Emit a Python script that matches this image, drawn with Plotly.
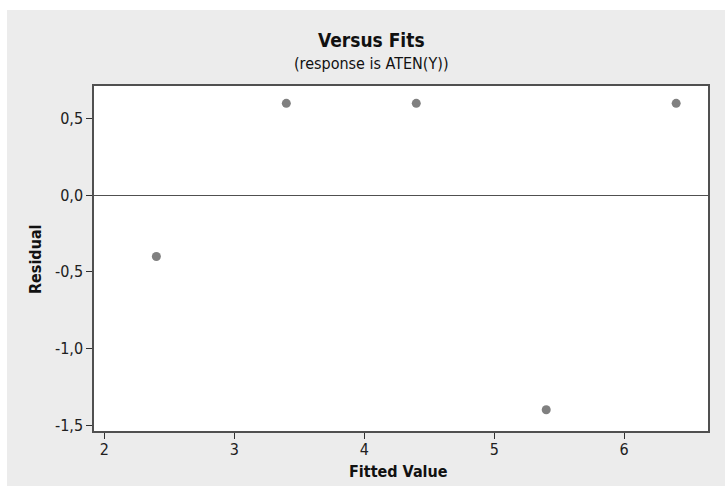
import plotly.graph_objects as go

fitted = [2.4, 3.4, 4.4, 5.4, 6.4]
residual = [-0.4, 0.6, 0.6, -1.4, 0.6]
x_ticks = [2, 3, 4, 5, 6]
y_ticks = [-1.5, -1.0, -0.5, 0.0, 0.5]
y_tick_labels = ["-1,5", "-1,0", "-0,5", "0,0", "0,5"]

title_text = "Versus Fits"
subtitle_text = "(response is ATEN(Y))"
x_title = "Fitted Value"
y_title = "Residual"

W, H = 725, 486
ML, MT = 94, 86
PW, PH = 614, 345
MR, MB = W - ML - PW, H - MT - PH

def px_x(p):  # page pixel -> paper x
    return (p - ML) / PW

def px_y(p):  # page pixel -> paper y
    return (MT + PH - p) / PH

FONT = "DejaVu Sans Condensed, DejaVu Sans, sans-serif"

fig = go.Figure()
fig.add_trace(go.Scatter(
    x=fitted, y=residual, mode="markers",
    marker=dict(color="#808080", size=9, line=dict(width=0)),
    showlegend=False, hoverinfo="x+y",
))

axis_common = dict(
    showgrid=False, showline=True, mirror=True, linecolor="#505050", linewidth=1.5,
    ticks="outside", ticklen=6, tickwidth=1, tickcolor="#303030",
    tickfont=dict(family=FONT, size=16, color="#202020"),
)

fig.update_layout(
    width=W, height=H,
    margin=dict(l=ML, r=MR, t=MT, b=MB, pad=0),
    paper_bgcolor="#ECECEC", plot_bgcolor="white",
    xaxis=dict(range=[1.92, 6.645], tickvals=x_ticks, zeroline=False,
               ticklabelstandoff=-3, **axis_common),
    yaxis=dict(range=[-1.539, 0.713], tickvals=y_ticks, ticktext=y_tick_labels,
               zeroline=True, zerolinecolor="#505050", zerolinewidth=1.2, **axis_common),
    shapes=[
        dict(type="rect", xref="paper", yref="paper", x0=px_x(-5), x1=px_x(740),
             y0=px_y(10), y1=px_y(-5), fillcolor="white", line=dict(width=0), layer="above"),
        dict(type="rect", xref="paper", yref="paper", x0=px_x(-5), x1=px_x(7),
             y0=px_y(495), y1=px_y(-5), fillcolor="white", line=dict(width=0), layer="above"),
    ],
    annotations=[
        dict(text="<b>" + title_text + "</b>", xref="paper", yref="paper", x=px_x(371), y=px_y(40),
             xanchor="center", yanchor="middle", showarrow=False,
             font=dict(family=FONT, size=19, color="#111")),
        dict(text=subtitle_text, xref="paper", yref="paper", x=px_x(371), y=px_y(63),
             xanchor="center", yanchor="middle", showarrow=False,
             font=dict(family=FONT, size=16, color="#111")),
        dict(text="<b>" + x_title + "</b>", xref="paper", yref="paper", x=px_x(398), y=px_y(471),
             xanchor="center", yanchor="middle", showarrow=False,
             font=dict(family=FONT, size=16, color="#111")),
        dict(text="<b>" + y_title + "</b>", xref="paper", yref="paper", x=px_x(35), y=px_y(259),
             xanchor="center", yanchor="middle", showarrow=False, textangle=-90,
             font=dict(family=FONT, size=16, color="#111")),
    ],
)

fig.write_html(
    "out.html",
    config={"displayModeBar": False},
    post_script="document.body.style.margin='0px';document.body.style.overflow='hidden';",
)
